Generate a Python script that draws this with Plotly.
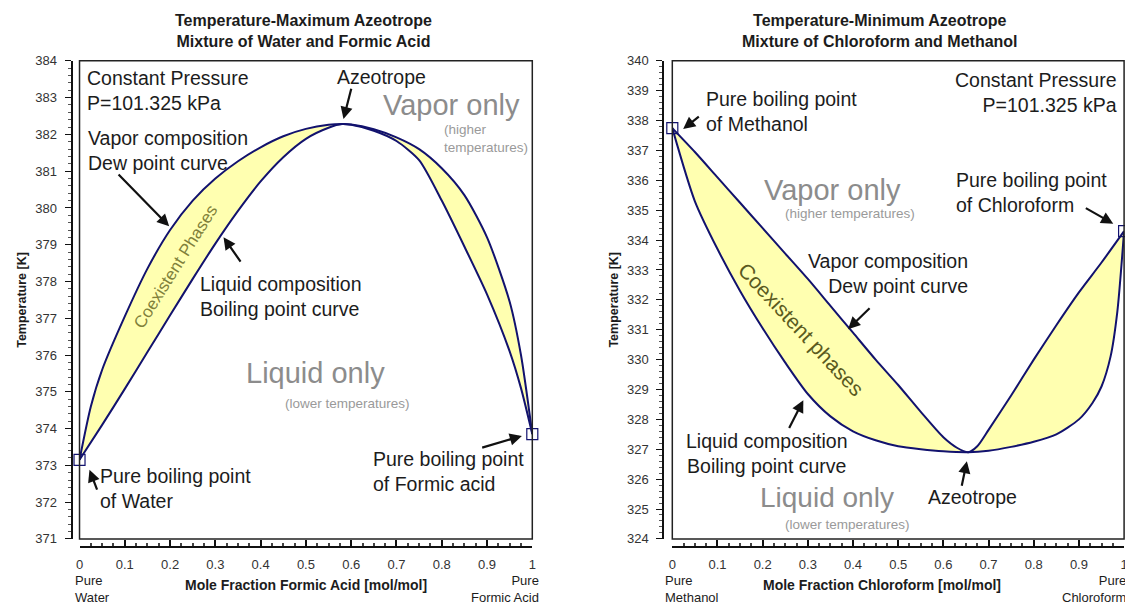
import plotly.graph_objects as go

# ---- Left: water / formic acid (temperature-maximum azeotrope) ----
fa_liq_x = [0, 0.05, 0.1, 0.15, 0.2, 0.25, 0.3, 0.35, 0.4, 0.45, 0.5, 0.55, 0.58,
            0.6, 0.65, 0.7, 0.75, 0.8, 0.85, 0.9, 0.95, 0.975, 1.0]
fa_liq_T = [373.15, 374.1, 375.08, 376.08, 377.08, 378.07, 379.03, 379.92, 380.72, 381.38,
            381.88, 382.18, 382.28, 382.26, 382.1, 381.82, 381.3, 380.2, 378.95, 377.65,
            376.1, 375.1, 373.85]
fa_vap_x = [0, 0.025, 0.05, 0.1, 0.15, 0.2, 0.25, 0.3, 0.35, 0.4, 0.45, 0.5, 0.55, 0.58,
            0.6, 0.65, 0.7, 0.75, 0.8, 0.85, 0.9, 0.95, 0.975, 1.0]
fa_vap_T = [373.15, 374.6, 375.6, 377.05, 378.35, 379.4, 380.2, 380.8, 381.27, 381.65,
            381.95, 382.15, 382.26, 382.28, 382.27, 382.14, 381.92, 381.6, 381.08, 380.35,
            379.2, 377.45, 376.0, 373.85]
fa_pure_x = [0, 1]
fa_pure_T = [373.15, 373.85]

# ---- Right: chloroform / methanol (temperature-minimum azeotrope) ----
cm_liq_x = [0, 0.05, 0.1, 0.15, 0.2, 0.25, 0.3, 0.35, 0.4, 0.45, 0.5, 0.55, 0.6, 0.655,
            0.7, 0.75, 0.8, 0.85, 0.9, 0.93, 0.95, 0.97, 0.985, 1.0]
cm_liq_T = [337.75, 335.3, 333.7, 332.3, 331.05, 329.9, 328.85, 328.1, 327.6, 327.3,
            327.1, 327.0, 326.93, 326.9, 326.95, 327.08, 327.25, 327.5, 328.0, 328.55,
            329.1, 330.1, 331.6, 334.3]
cm_vap_x = [0, 0.05, 0.1, 0.15, 0.2, 0.25, 0.3, 0.35, 0.4, 0.45, 0.5, 0.55, 0.6, 0.63,
            0.655, 0.675, 0.7, 0.75, 0.8, 0.85, 0.9, 0.95, 1.0]
cm_vap_T = [337.75, 336.95, 336.1, 335.25, 334.4, 333.55, 332.7, 331.8, 330.9, 330.0,
            329.15, 328.25, 327.4, 327.05, 326.9, 327.1, 327.65, 328.8, 330.0, 331.15,
            332.25, 333.25, 334.3]
cm_pure_x = [0, 1]
cm_pure_T = [337.75, 334.3]

W, H = 1133, 614
OFF = 8  # page body margin around the plot div
FONT = "Liberation Sans, Arial, sans-serif"
NAVY = "#12126e"
FILL = "#ffffb0"
GREY = "#8c8c8c"
LGREY = "#9a9a9a"
TXT = "#1c1c1c"
LBL = 19.5  # size of the black callout texts


def px(v):
    return (v - OFF) / W


def py(v):
    return 1 - (v - OFF) / H


fig = go.Figure()


def add_diagram(xa, ya, liq_x, liq_T, vap_x, vap_T, pure_x, pure_T):
    # yellow two-phase region
    fig.add_trace(go.Scatter(
        x=vap_x + liq_x[::-1], y=vap_T + liq_T[::-1], xaxis=xa, yaxis=ya,
        fill="toself", fillcolor=FILL, mode="lines", line=dict(width=0),
        hoverinfo="skip", showlegend=False))
    for xs, ts in ((liq_x, liq_T), (vap_x, vap_T)):
        fig.add_trace(go.Scatter(
            x=xs, y=ts, xaxis=xa, yaxis=ya, mode="lines",
            line=dict(color=NAVY, width=2, shape="spline", smoothing=0.7),
            showlegend=False))
    fig.add_trace(go.Scatter(
        x=pure_x, y=pure_T, xaxis=xa, yaxis=ya, mode="markers", cliponaxis=False,
        marker=dict(symbol="square-open", size=11, color=NAVY, line=dict(width=1.2)),
        showlegend=False))


add_diagram("x", "y", fa_liq_x, fa_liq_T, fa_vap_x, fa_vap_T, fa_pure_x, fa_pure_T)
add_diagram("x2", "y2", cm_liq_x, cm_liq_T, cm_vap_x, cm_vap_T, cm_pure_x, cm_pure_T)

xaxis_common = dict(
    range=[0, 1], anchor="free", position=py(553), showline=True, linewidth=2,
    linecolor="#111", ticks="inside", ticklen=6, tickwidth=1.5, tickcolor="#111",
    dtick=0.1, showgrid=False, zeroline=False, ticklabelstandoff=6,
    tickfont=dict(family=FONT, size=13, color="#333"),
    minor=dict(ticks="inside", ticklen=3, dtick=0.025, tickcolor="#444"),
)
yaxis_common = dict(
    anchor="free", showline=True, linewidth=2, linecolor="#111",
    ticks="outside", ticklen=6, tickwidth=1.2, tickcolor="#111", dtick=1,
    showgrid=False, zeroline=False, ticklabelstandoff=5,
    tickfont=dict(family=FONT, size=13, color="#333"),
    minor=dict(ticks="outside", ticklen=3, dtick=0.2, tickcolor="#555"),
    domain=[py(545), py(55)],
)

fig.update_layout(
    width=W, height=H, margin=dict(l=0, r=0, t=0, b=0),
    plot_bgcolor="white", paper_bgcolor="white", showlegend=False,
    font=dict(family=FONT, color=TXT),
    xaxis=dict(domain=[px(76), px(532)], **xaxis_common),
    yaxis=dict(range=[371, 384], position=px(68), **yaxis_common),
    xaxis2=dict(domain=[px(673), px(1128)], **xaxis_common),
    yaxis2=dict(range=[324, 340], position=px(664), **yaxis_common),
)

# plot frames
for xr, yr in (("x", "y"), ("x2", "y2")):
    fig.add_shape(type="rect", xref=f"{xr} domain", yref=f"{yr} domain",
                  x0=0, x1=1, y0=0, y1=1, line=dict(color="#222", width=1.5))

ann = []


def text(x, y, t, size=LBL, color=TXT, xa="x", ya="y", xanchor="center",
         yanchor="middle", align="left", angle=0, bold=False):
    ann.append(dict(x=x, y=y, xref=xa, yref=ya, text=f"<b>{t}</b>" if bold else t,
                    showarrow=False, xanchor=xanchor, yanchor=yanchor, align=align,
                    textangle=angle, font=dict(family=FONT, size=size, color=color)))


def arrow(x0, y0, x1, y1, xa="x", ya="y"):
    ann.append(dict(x=x1, y=y1, ax=x0, ay=y0, xref=xa, yref=ya, axref=xa, ayref=ya,
                    text="", showarrow=True, arrowhead=2, arrowsize=1.1,
                    arrowwidth=2.2, arrowcolor="#111"))


# titles and axis titles (paper coordinates)
for cx, title in ((302, "Temperature-Maximum Azeotrope<br>Mixture of Water and Formic Acid"),
                  (882, "Temperature-Minimum Azeotrope<br>Mixture of Chloroform and Methanol")):
    text(px(cx), py(24), title, size=16, xa="paper", ya="paper", align="center",
         bold=True)
for cx in (18, 614):
    text(px(cx), py(300), "Temperature [K]", size=12.5, xa="paper", ya="paper",
         angle=-90, bold=True)
text(px(304), py(592), "Mole Fraction Formic Acid [mol/mol]", size=14,
     xa="paper", ya="paper", bold=True)
text(px(884), py(592), "Mole Fraction Chloroform [mol/mol]", size=14,
     xa="paper", ya="paper", bold=True)
text(px(69), py(596), "Pure<br>Water", size=13, xa="paper", ya="paper",
     xanchor="left")
text(px(541), py(596), "Pure<br>Formic Acid", size=13, xa="paper", ya="paper",
     xanchor="right", align="right")
text(px(664), py(596), "Pure<br>Methanol", size=13, xa="paper", ya="paper",
     xanchor="left")
text(px(1132), py(596), "Pure<br>Chloroform", size=13, xa="paper", ya="paper",
     xanchor="right", align="right")

# ---- left panel labels ----
text(0.012, 383.9, "Constant Pressure<br>P=101.325 kPa", xanchor="left", yanchor="top")
text(0.667, 383.55, "Azeotrope")
arrow(0.601, 383.28, 0.583, 382.42)
text(0.822, 382.8, "Vapor only", size=29, color=GREY)
text(0.80, 381.88, "(higher<br>temperatures)", size=13.5, color=LGREY, xanchor="left")
text(0.015, 381.55, "Vapor composition<br>Dew point curve", xanchor="left")
arrow(0.083, 380.95, 0.198, 379.5)
text(0.213, 378.4, "Coexistent Phases", size=17, color="#80803a", angle=-58)
text(0.261, 377.6, "Liquid composition<br>Boiling point curve", xanchor="left")
arrow(0.358, 378.5, 0.318, 379.2)
text(0.522, 375.5, "Liquid only", size=29, color=GREY)
text(0.592, 374.68, "(lower temperatures)", size=13.5, color=LGREY)
text(0.04, 372.36, "Pure boiling point<br>of Water", xanchor="left")
arrow(0.04, 372.3, 0.022, 372.88)
text(0.644, 372.83, "Pure boiling point<br>of Formic acid", xanchor="left")
arrow(0.886, 373.47, 0.977, 373.8)

# ---- right panel labels ----
R = dict(xa="x2", ya="y2")
text(0.989, 339.78, "Constant Pressure<br>P=101.325 kPa", xanchor="right",
     yanchor="top", align="right", **R)
text(0.07, 338.29, "Pure boiling point<br>of Methanol", xanchor="left", **R)
arrow(0.062, 338.17, 0.024, 337.72, **R)
text(0.354, 335.68, "Vapor only", size=29, color=GREY, **R)
text(0.393, 334.88, "(higher temperatures)", size=13.5, color=LGREY, **R)
text(0.624, 335.6, "Pure boiling point<br>of Chloroform", xanchor="left", **R)
arrow(0.912, 335.1, 0.976, 334.55, **R)
text(0.659, 332.87, "Vapor composition<br>Dew point curve", xanchor="right",
     align="right", **R)
arrow(0.44, 331.77, 0.389, 331.02, **R)
text(0.286, 331.02, "Coexistent phases", size=21, color="#5a5a20", angle=47, **R)
text(0.209, 326.87, "Liquid composition<br>Boiling point curve", align="center", **R)
arrow(0.257, 327.66, 0.29, 328.64, **R)
text(0.664, 325.4, "Azeotrope", **R)
arrow(0.64, 325.73, 0.652, 326.6, **R)
text(0.343, 325.38, "Liquid only", size=28, color=GREY, **R)
text(0.387, 324.47, "(lower temperatures)", size=13.5, color=LGREY, **R)

fig.update_layout(annotations=ann)
fig.write_html("out.html")
